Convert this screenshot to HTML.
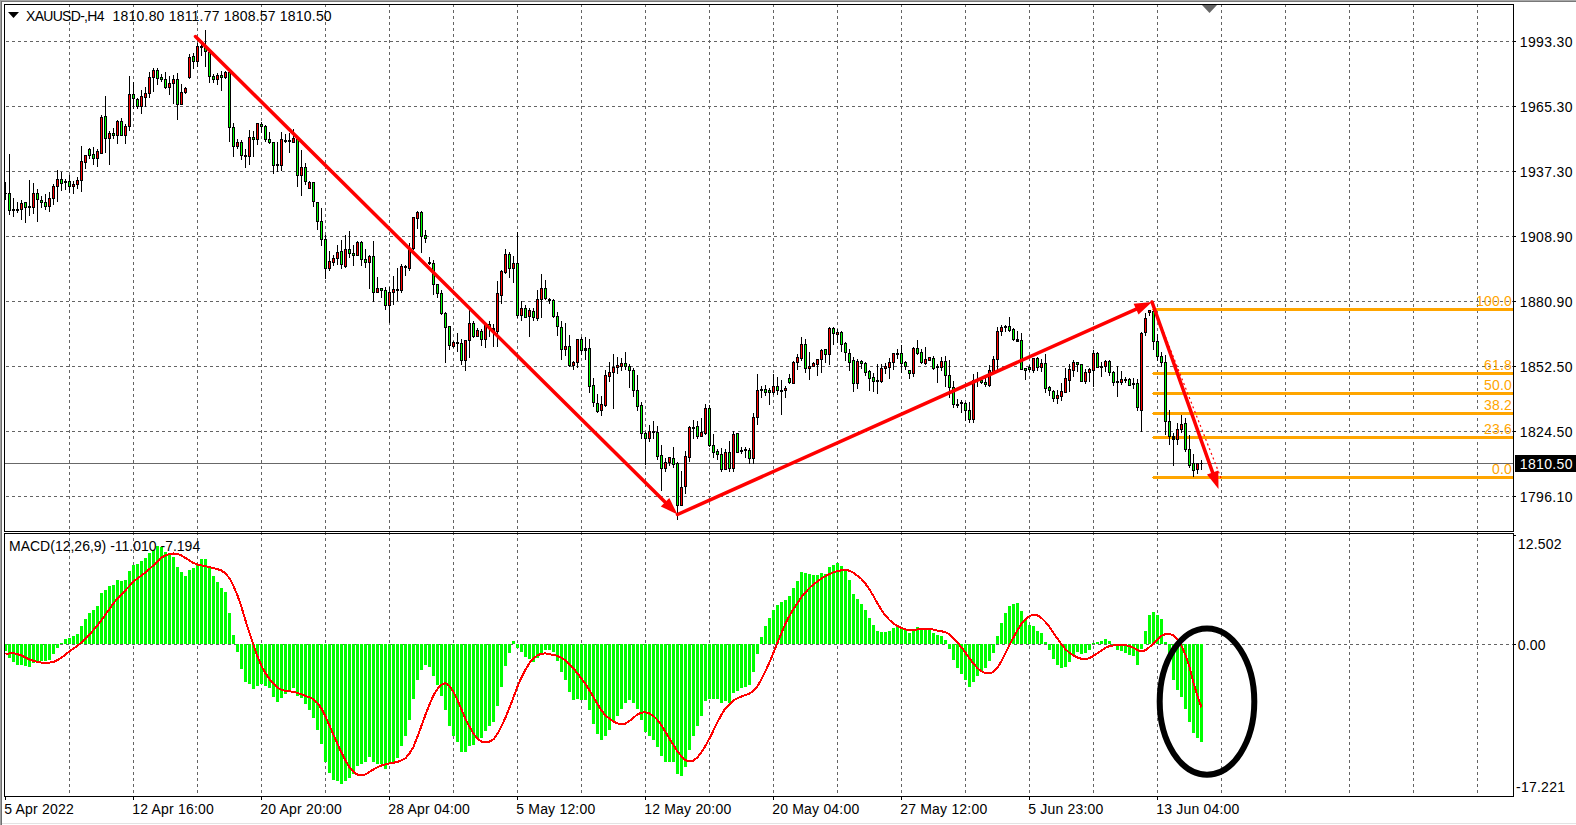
<!DOCTYPE html><html><head><meta charset="utf-8"><style>
html,body{margin:0;padding:0;background:#fff;width:1576px;height:825px;overflow:hidden}
svg{display:block}
text{font-family:"Liberation Sans",sans-serif;font-size:14px}
</style></head><body>
<svg width="1576" height="825" viewBox="0 0 1576 825" shape-rendering="crispEdges">
<rect x="0" y="0" width="1576" height="825" fill="#fff"/>
<rect x="0" y="0" width="1576" height="1" fill="#a8a8a8"/>
<rect x="0" y="1" width="1576" height="1" fill="#787878"/>
<rect x="0" y="0" width="1" height="825" fill="#a0a0a0"/>
<rect x="1" y="1" width="1" height="824" fill="#6e6e6e"/>
<rect x="2" y="823" width="1574" height="1" fill="#e3e3e3"/>
<path d="M6 41.5H1513 M6 106.5H1513 M6 171.5H1513 M6 236.5H1513 M6 301.5H1513 M6 366.5H1513 M6 431.5H1513 M6 496.5H1513 M69.5 4V531 M133.5 4V531 M197.5 4V531 M261.5 4V531 M325.5 4V531 M389.5 4V531 M453.5 4V531 M517.5 4V531 M581.5 4V531 M645.5 4V531 M709.5 4V531 M773.5 4V531 M837.5 4V531 M901.5 4V531 M965.5 4V531 M1029.5 4V531 M1093.5 4V531 M1157.5 4V531 M1221.5 4V531 M1285.5 4V531 M1349.5 4V531 M1413.5 4V531 M1477.5 4V531" stroke="#646464" stroke-width="1" stroke-dasharray="3 3" fill="none"/>
<path d="M6 644.5H1513 M69.5 532V796 M133.5 532V796 M197.5 532V796 M261.5 532V796 M325.5 532V796 M389.5 532V796 M453.5 532V796 M517.5 532V796 M581.5 532V796 M645.5 532V796 M709.5 532V796 M773.5 532V796 M837.5 532V796 M901.5 532V796 M965.5 532V796 M1029.5 532V796 M1093.5 532V796 M1157.5 532V796 M1221.5 532V796 M1285.5 532V796 M1349.5 532V796 M1413.5 532V796 M1477.5 532V796" stroke="#646464" stroke-width="1" stroke-dasharray="3 3" fill="none"/>
<rect x="5" y="463" width="1508" height="1" fill="#686868"/>
<rect x="1153" y="308" width="360" height="3" fill="#ffa500"/><rect x="1152" y="309" width="1" height="1" fill="#ffa500"/>
<rect x="1153" y="372" width="360" height="3" fill="#ffa500"/><rect x="1152" y="373" width="1" height="1" fill="#ffa500"/>
<rect x="1153" y="392" width="360" height="3" fill="#ffa500"/><rect x="1152" y="393" width="1" height="1" fill="#ffa500"/>
<rect x="1153" y="412" width="360" height="3" fill="#ffa500"/><rect x="1152" y="413" width="1" height="1" fill="#ffa500"/>
<rect x="1153" y="436" width="360" height="3" fill="#ffa500"/><rect x="1152" y="437" width="1" height="1" fill="#ffa500"/>
<rect x="1153" y="476" width="360" height="3" fill="#ffa500"/><rect x="1152" y="477" width="1" height="1" fill="#ffa500"/>
<text x="1512" y="306" text-anchor="end" fill="#ffa500" letter-spacing="0.2">100.0</text>
<text x="1512" y="370" text-anchor="end" fill="#ffa500" letter-spacing="0.2">61.8</text>
<text x="1512" y="390" text-anchor="end" fill="#ffa500" letter-spacing="0.2">50.0</text>
<text x="1512" y="410" text-anchor="end" fill="#ffa500" letter-spacing="0.2">38.2</text>
<text x="1512" y="434" text-anchor="end" fill="#ffa500" letter-spacing="0.2">23.6</text>
<text x="1512" y="474" text-anchor="end" fill="#ffa500" letter-spacing="0.2">0.0</text>
<path d="M5 182h1V200h-1z M9 154h1V215h-1z M13 198h1V217h-1z M17 202h1V213h-1z M21 200h1V220h-1z M25 202h1V223h-1z M29 180h1V216h-1z M33 183h1V214h-1z M37 189h1V222h-1z M41 196h1V208h-1z M45 194h1V210h-1z M49 192h1V212h-1z M53 184h1V205h-1z M57 170h1V202h-1z M61 172h1V191h-1z M65 179h1V190h-1z M69 175h1V193h-1z M73 181h1V194h-1z M77 177h1V189h-1z M81 146h1V192h-1z M85 155h1V169h-1z M89 148h1V159h-1z M93 147h1V165h-1z M97 149h1V167h-1z M101 115h1V154h-1z M105 96h1V153h-1z M109 131h1V165h-1z M113 128h1V139h-1z M117 120h1V144h-1z M121 118h1V136h-1z M125 124h1V144h-1z M129 76h1V131h-1z M133 82h1V109h-1z M137 98h1V109h-1z M141 90h1V114h-1z M145 87h1V107h-1z M149 72h1V98h-1z M153 68h1V92h-1z M157 68h1V85h-1z M161 74h1V82h-1z M165 72h1V89h-1z M169 76h1V95h-1z M173 75h1V104h-1z M177 73h1V120h-1z M181 84h1V105h-1z M185 87h1V94h-1z M189 54h1V79h-1z M193 53h1V69h-1z M197 43h1V67h-1z M201 44h1V56h-1z M205 30h1V67h-1z M209 52h1V83h-1z M213 74h1V83h-1z M217 73h1V85h-1z M221 71h1V91h-1z M225 71h1V79h-1z M229 72h1V142h-1z M233 123h1V157h-1z M237 139h1V149h-1z M241 140h1V160h-1z M245 149h1V168h-1z M249 130h1V165h-1z M253 131h1V157h-1z M257 123h1V145h-1z M261 122h1V133h-1z M265 125h1V142h-1z M269 132h1V144h-1z M273 142h1V174h-1z M277 142h1V172h-1z M281 132h1V171h-1z M285 134h1V143h-1z M289 133h1V153h-1z M293 129h1V143h-1z M297 138h1V187h-1z M301 150h1V196h-1z M305 163h1V185h-1z M309 181h1V189h-1z M313 182h1V207h-1z M317 202h1V230h-1z M321 208h1V246h-1z M325 235h1V279h-1z M329 251h1V271h-1z M333 255h1V266h-1z M337 245h1V265h-1z M341 240h1V269h-1z M345 235h1V268h-1z M349 231h1V258h-1z M353 245h1V266h-1z M357 241h1V256h-1z M361 241h1V266h-1z M365 249h1V268h-1z M369 255h1V289h-1z M373 241h1V302h-1z M377 277h1V293h-1z M381 288h1V298h-1z M385 287h1V310h-1z M389 287h1V323h-1z M393 276h1V305h-1z M397 268h1V301h-1z M401 264h1V293h-1z M405 265h1V276h-1z M409 243h1V271h-1z M413 217h1V250h-1z M417 211h1V229h-1z M421 211h1V253h-1z M425 230h1V243h-1z M429 257h1V265h-1z M433 260h1V295h-1z M437 284h1V298h-1z M441 290h1V315h-1z M445 312h1V363h-1z M449 326h1V350h-1z M453 341h1V348h-1z M457 333h1V352h-1z M461 339h1V365h-1z M465 340h1V371h-1z M469 310h1V358h-1z M473 321h1V338h-1z M477 328h1V337h-1z M481 329h1V346h-1z M485 323h1V348h-1z M489 321h1V337h-1z M493 324h1V347h-1z M497 281h1V347h-1z M501 270h1V304h-1z M505 249h1V274h-1z M509 252h1V278h-1z M513 256h1V283h-1z M517 232h1V318h-1z M521 301h1V321h-1z M525 305h1V318h-1z M529 308h1V337h-1z M533 308h1V321h-1z M537 290h1V321h-1z M541 274h1V318h-1z M545 280h1V300h-1z M549 298h1V304h-1z M553 299h1V318h-1z M557 312h1V336h-1z M561 321h1V360h-1z M565 323h1V356h-1z M569 335h1V367h-1z M573 361h1V370h-1z M577 339h1V368h-1z M581 337h1V355h-1z M585 337h1V360h-1z M589 339h1V393h-1z M593 378h1V407h-1z M597 394h1V413h-1z M601 396h1V416h-1z M605 370h1V407h-1z M609 362h1V382h-1z M613 354h1V409h-1z M617 357h1V374h-1z M621 358h1V371h-1z M625 352h1V370h-1z M629 364h1V388h-1z M633 368h1V397h-1z M637 375h1V411h-1z M641 402h1V439h-1z M645 432h1V465h-1z M649 425h1V442h-1z M653 421h1V439h-1z M657 426h1V460h-1z M661 445h1V491h-1z M665 458h1V472h-1z M669 457h1V466h-1z M673 447h1V468h-1z M677 462h1V520h-1z M681 471h1V506h-1z M685 451h1V494h-1z M689 426h1V462h-1z M693 420h1V439h-1z M697 421h1V439h-1z M701 418h1V437h-1z M705 404h1V435h-1z M709 405h1V447h-1z M713 434h1V458h-1z M717 449h1V460h-1z M721 448h1V472h-1z M725 449h1V470h-1z M729 441h1V472h-1z M733 431h1V472h-1z M737 433h1V453h-1z M741 447h1V454h-1z M745 447h1V458h-1z M749 448h1V464h-1z M753 413h1V464h-1z M757 374h1V425h-1z M761 386h1V398h-1z M765 385h1V396h-1z M769 388h1V405h-1z M773 374h1V395h-1z M777 377h1V395h-1z M781 380h1V415h-1z M785 386h1V398h-1z M789 374h1V384h-1z M793 361h1V384h-1z M797 354h1V370h-1z M801 337h1V361h-1z M805 339h1V373h-1z M809 352h1V380h-1z M813 362h1V367h-1z M817 359h1V376h-1z M821 349h1V373h-1z M825 349h1V363h-1z M829 327h1V365h-1z M833 327h1V345h-1z M837 329h1V343h-1z M841 331h1V352h-1z M845 342h1V361h-1z M849 349h1V371h-1z M853 357h1V392h-1z M857 359h1V389h-1z M861 360h1V369h-1z M865 362h1V376h-1z M869 370h1V391h-1z M873 373h1V392h-1z M877 364h1V394h-1z M881 364h1V383h-1z M885 363h1V374h-1z M889 358h1V379h-1z M893 353h1V370h-1z M897 349h1V359h-1z M901 345h1V373h-1z M905 361h1V370h-1z M909 370h1V379h-1z M913 347h1V377h-1z M917 340h1V355h-1z M921 349h1V364h-1z M925 347h1V365h-1z M929 357h1V361h-1z M933 356h1V370h-1z M937 364h1V383h-1z M941 357h1V371h-1z M945 356h1V387h-1z M949 360h1V398h-1z M953 381h1V408h-1z M957 399h1V408h-1z M961 400h1V413h-1z M965 402h1V421h-1z M969 402h1V423h-1z M973 374h1V423h-1z M977 372h1V387h-1z M981 378h1V384h-1z M985 375h1V387h-1z M989 365h1V387h-1z M993 356h1V372h-1z M997 327h1V372h-1z M1001 325h1V336h-1z M1005 325h1V332h-1z M1009 317h1V332h-1z M1013 328h1V341h-1z M1017 331h1V342h-1z M1021 333h1V370h-1z M1025 368h1V380h-1z M1029 365h1V372h-1z M1033 358h1V373h-1z M1037 357h1V371h-1z M1041 359h1V372h-1z M1045 354h1V393h-1z M1049 386h1V396h-1z M1053 390h1V402h-1z M1057 390h1V404h-1z M1061 383h1V401h-1z M1065 368h1V393h-1z M1069 364h1V392h-1z M1073 360h1V377h-1z M1077 362h1V372h-1z M1081 364h1V382h-1z M1085 369h1V384h-1z M1089 368h1V382h-1z M1093 350h1V387h-1z M1097 352h1V368h-1z M1101 362h1V377h-1z M1105 360h1V372h-1z M1109 360h1V376h-1z M1113 371h1V386h-1z M1117 366h1V397h-1z M1121 371h1V385h-1z M1125 377h1V383h-1z M1129 378h1V386h-1z M1133 378h1V389h-1z M1137 379h1V411h-1z M1141 332h1V432h-1z M1145 313h1V336h-1z M1149 310h1V316h-1z M1153 308h1V350h-1z M1157 334h1V361h-1z M1161 352h1V367h-1z M1165 355h1V435h-1z M1169 410h1V445h-1z M1173 433h1V466h-1z M1177 423h1V445h-1z M1181 415h1V433h-1z M1185 418h1V452h-1z M1189 435h1V468h-1z M1193 454h1V477h-1z M1197 463h1V474h-1z M1201 460h1V470h-1z" fill="#000"/>
<path d="M4 193h3V194h-3z M8 193h3V211h-3z M12 209h3V211h-3z M16 209h3V211h-3z M20 203h3V210h-3z M24 202h3V208h-3z M28 206h3V208h-3z M32 193h3V208h-3z M36 193h3V200h-3z M40 200h3V203h-3z M44 202h3V207h-3z M48 198h3V207h-3z M52 186h3V199h-3z M56 179h3V187h-3z M60 179h3V184h-3z M64 181h3V183h-3z M68 181h3V187h-3z M72 184h3V187h-3z M76 180h3V185h-3z M80 161h3V181h-3z M84 155h3V163h-3z M88 149h3V156h-3z M92 154h3V159h-3z M96 151h3V159h-3z M100 117h3V154h-3z M104 116h3V139h-3z M108 133h3V139h-3z M112 133h3V136h-3z M116 121h3V136h-3z M120 121h3V136h-3z M124 126h3V136h-3z M128 94h3V127h-3z M132 94h3V99h-3z M136 99h3V107h-3z M140 96h3V107h-3z M144 93h3V98h-3z M148 77h3V94h-3z M152 70h3V78h-3z M156 70h3V79h-3z M160 77h3V80h-3z M164 79h3V88h-3z M168 83h3V88h-3z M172 79h3V84h-3z M176 79h3V105h-3z M180 92h3V105h-3z M184 88h3V93h-3z M188 57h3V78h-3z M192 56h3V62h-3z M196 46h3V62h-3z M200 46h3V48h-3z M204 47h3V52h-3z M208 52h3V77h-3z M212 76h3V80h-3z M216 75h3V80h-3z M220 75h3V78h-3z M224 72h3V78h-3z M228 72h3V128h-3z M232 127h3V147h-3z M236 142h3V147h-3z M240 142h3V156h-3z M244 155h3V157h-3z M248 137h3V157h-3z M252 137h3V140h-3z M256 123h3V140h-3z M260 124h3V127h-3z M264 126h3V140h-3z M268 139h3V143h-3z M272 142h3V166h-3z M276 164h3V166h-3z M280 139h3V166h-3z M284 140h3V142h-3z M288 140h3V142h-3z M292 138h3V143h-3z M296 139h3V176h-3z M300 167h3V176h-3z M304 167h3V182h-3z M308 182h3V189h-3z M312 182h3V202h-3z M316 202h3V222h-3z M320 221h3V240h-3z M324 239h3V269h-3z M328 261h3V269h-3z M332 258h3V263h-3z M336 252h3V259h-3z M340 251h3V265h-3z M344 249h3V267h-3z M348 249h3V254h-3z M352 253h3V256h-3z M356 242h3V256h-3z M360 242h3V260h-3z M364 259h3V263h-3z M368 256h3V263h-3z M372 256h3V293h-3z M376 288h3V293h-3z M380 288h3V291h-3z M384 290h3V306h-3z M388 292h3V306h-3z M392 289h3V293h-3z M396 289h3V291h-3z M400 266h3V291h-3z M404 266h3V268h-3z M408 249h3V269h-3z M412 217h3V249h-3z M416 212h3V219h-3z M420 212h3V237h-3z M424 235h3V239h-3z M428 262h3V264h-3z M432 263h3V285h-3z M436 284h3V294h-3z M440 293h3V314h-3z M444 313h3V328h-3z M448 326h3V346h-3z M452 342h3V347h-3z M456 342h3V344h-3z M460 343h3V361h-3z M464 340h3V361h-3z M468 323h3V341h-3z M472 323h3V337h-3z M476 330h3V337h-3z M480 331h3V340h-3z M484 325h3V340h-3z M488 324h3V328h-3z M492 328h3V331h-3z M496 293h3V332h-3z M500 271h3V296h-3z M504 254h3V273h-3z M508 254h3V269h-3z M512 263h3V269h-3z M516 263h3V316h-3z M520 308h3V316h-3z M524 308h3V318h-3z M528 310h3V317h-3z M532 311h3V318h-3z M536 299h3V319h-3z M540 288h3V300h-3z M544 288h3V299h-3z M548 299h3V301h-3z M552 300h3V317h-3z M556 316h3V327h-3z M560 327h3V350h-3z M564 346h3V350h-3z M568 346h3V366h-3z M572 362h3V366h-3z M576 339h3V363h-3z M580 339h3V351h-3z M584 348h3V351h-3z M588 348h3V387h-3z M592 385h3V403h-3z M596 403h3V412h-3z M600 404h3V411h-3z M604 375h3V406h-3z M608 372h3V377h-3z M612 367h3V373h-3z M616 365h3V368h-3z M620 363h3V367h-3z M624 363h3V367h-3z M628 366h3V371h-3z M632 370h3V391h-3z M636 390h3V407h-3z M640 405h3V434h-3z M644 433h3V439h-3z M648 431h3V439h-3z M652 431h3V433h-3z M656 432h3V457h-3z M660 455h3V469h-3z M664 462h3V469h-3z M668 457h3V463h-3z M672 458h3V465h-3z M676 463h3V506h-3z M680 487h3V506h-3z M684 456h3V487h-3z M688 427h3V458h-3z M692 427h3V429h-3z M696 426h3V437h-3z M700 432h3V437h-3z M704 408h3V434h-3z M708 408h3V446h-3z M712 445h3V453h-3z M716 451h3V455h-3z M720 454h3V470h-3z M724 452h3V470h-3z M728 452h3V469h-3z M732 434h3V469h-3z M736 433h3V453h-3z M740 450h3V452h-3z M744 449h3V451h-3z M748 450h3V459h-3z M752 417h3V459h-3z M756 390h3V418h-3z M760 389h3V391h-3z M764 389h3V393h-3z M768 390h3V393h-3z M772 386h3V393h-3z M776 386h3V391h-3z M780 390h3V392h-3z M784 388h3V391h-3z M788 378h3V383h-3z M792 362h3V384h-3z M796 357h3V363h-3z M800 344h3V359h-3z M804 344h3V369h-3z M808 366h3V369h-3z M812 363h3V367h-3z M816 359h3V365h-3z M820 350h3V360h-3z M824 349h3V355h-3z M828 328h3V355h-3z M832 328h3V334h-3z M836 332h3V335h-3z M840 332h3V345h-3z M844 343h3V353h-3z M848 353h3V363h-3z M852 360h3V384h-3z M856 361h3V384h-3z M860 361h3V364h-3z M864 363h3V373h-3z M868 371h3V379h-3z M872 377h3V382h-3z M876 380h3V382h-3z M880 368h3V382h-3z M884 366h3V369h-3z M888 362h3V368h-3z M892 353h3V363h-3z M896 353h3V355h-3z M900 353h3V364h-3z M904 362h3V367h-3z M908 370h3V374h-3z M912 348h3V374h-3z M916 348h3V354h-3z M920 352h3V363h-3z M924 359h3V364h-3z M928 357h3V361h-3z M932 358h3V369h-3z M936 366h3V368h-3z M940 361h3V368h-3z M944 361h3V376h-3z M948 375h3V388h-3z M952 387h3V405h-3z M956 404h3V406h-3z M960 402h3V404h-3z M964 403h3V411h-3z M968 410h3V420h-3z M972 380h3V420h-3z M976 379h3V381h-3z M980 380h3V383h-3z M984 382h3V385h-3z M988 370h3V386h-3z M992 359h3V372h-3z M996 331h3V360h-3z M1000 327h3V332h-3z M1004 326h3V328h-3z M1008 326h3V331h-3z M1012 329h3V340h-3z M1016 339h3V342h-3z M1020 340h3V370h-3z M1024 368h3V371h-3z M1028 367h3V370h-3z M1032 358h3V371h-3z M1036 358h3V368h-3z M1040 363h3V368h-3z M1044 363h3V389h-3z M1048 387h3V391h-3z M1052 391h3V399h-3z M1056 395h3V399h-3z M1060 391h3V397h-3z M1064 378h3V393h-3z M1068 369h3V381h-3z M1072 362h3V371h-3z M1076 362h3V365h-3z M1080 364h3V382h-3z M1084 372h3V382h-3z M1088 369h3V373h-3z M1092 353h3V371h-3z M1096 353h3V368h-3z M1100 366h3V368h-3z M1104 361h3V367h-3z M1108 361h3V373h-3z M1112 372h3V383h-3z M1116 381h3V383h-3z M1120 379h3V383h-3z M1124 379h3V381h-3z M1128 379h3V386h-3z M1132 383h3V385h-3z M1136 383h3V408h-3z M1140 333h3V411h-3z M1144 318h3V333h-3z M1148 310h3V313h-3z M1152 311h3V342h-3z M1156 341h3V357h-3z M1160 356h3V363h-3z M1164 362h3V422h-3z M1168 421h3V437h-3z M1172 436h3V440h-3z M1176 429h3V440h-3z M1180 424h3V430h-3z M1184 423h3V450h-3z M1188 449h3V466h-3z M1192 463h3V471h-3z M1196 463h3V470h-3z M1200 463h3V464h-3z" fill="#000"/>
<path d="M21 204h1v5h-1z M33 194h1v13h-1z M49 199h1v7h-1z M53 187h1v11h-1z M57 180h1v6h-1z M73 185h1v1h-1z M77 181h1v3h-1z M81 162h1v18h-1z M85 156h1v6h-1z M97 152h1v6h-1z M101 118h1v35h-1z M109 134h1v4h-1z M117 122h1v13h-1z M125 127h1v8h-1z M129 95h1v31h-1z M141 97h1v9h-1z M145 94h1v3h-1z M149 78h1v15h-1z M153 71h1v6h-1z M169 84h1v3h-1z M173 80h1v3h-1z M181 93h1v11h-1z M185 89h1v3h-1z M189 58h1v19h-1z M197 47h1v14h-1z M217 76h1v3h-1z M225 73h1v4h-1z M237 143h1v3h-1z M249 138h1v18h-1z M257 124h1v15h-1z M281 140h1v25h-1z M293 139h1v3h-1z M301 168h1v7h-1z M309 183h1v5h-1z M329 262h1v6h-1z M333 259h1v3h-1z M337 253h1v5h-1z M345 250h1v16h-1z M357 243h1v12h-1z M369 257h1v5h-1z M377 289h1v3h-1z M389 293h1v12h-1z M393 290h1v2h-1z M401 267h1v23h-1z M409 250h1v18h-1z M413 218h1v30h-1z M417 213h1v5h-1z M453 343h1v3h-1z M465 341h1v19h-1z M469 324h1v16h-1z M477 331h1v5h-1z M485 326h1v13h-1z M497 294h1v37h-1z M501 272h1v23h-1z M505 255h1v17h-1z M513 264h1v4h-1z M521 309h1v6h-1z M529 311h1v5h-1z M537 300h1v18h-1z M541 289h1v10h-1z M565 347h1v2h-1z M573 363h1v2h-1z M577 340h1v22h-1z M601 405h1v5h-1z M605 376h1v29h-1z M609 373h1v3h-1z M613 368h1v4h-1z M617 366h1v1h-1z M621 364h1v2h-1z M649 432h1v6h-1z M665 463h1v5h-1z M669 458h1v4h-1z M681 488h1v17h-1z M685 457h1v29h-1z M689 428h1v29h-1z M701 433h1v3h-1z M705 409h1v24h-1z M725 453h1v16h-1z M733 435h1v33h-1z M753 418h1v40h-1z M757 391h1v26h-1z M773 387h1v5h-1z M785 389h1v1h-1z M793 363h1v20h-1z M797 358h1v4h-1z M801 345h1v13h-1z M809 367h1v1h-1z M813 364h1v2h-1z M817 360h1v4h-1z M821 351h1v8h-1z M829 329h1v25h-1z M837 333h1v1h-1z M857 362h1v21h-1z M881 369h1v12h-1z M885 367h1v1h-1z M889 363h1v4h-1z M893 354h1v8h-1z M913 349h1v24h-1z M925 360h1v3h-1z M929 358h1v2h-1z M941 362h1v5h-1z M973 381h1v38h-1z M989 371h1v14h-1z M993 360h1v11h-1z M997 332h1v27h-1z M1001 328h1v3h-1z M1033 359h1v11h-1z M1041 364h1v3h-1z M1057 396h1v2h-1z M1061 392h1v4h-1z M1065 379h1v13h-1z M1069 370h1v10h-1z M1073 363h1v7h-1z M1085 373h1v8h-1z M1089 370h1v2h-1z M1093 354h1v16h-1z M1105 362h1v4h-1z M1121 380h1v2h-1z M1141 334h1v76h-1z M1145 319h1v13h-1z M1149 311h1v1h-1z M1177 430h1v9h-1z M1181 425h1v4h-1z M1197 464h1v5h-1z" fill="#ff0000"/>
<path d="M9 194h1v16h-1z M25 203h1v4h-1z M37 194h1v5h-1z M41 201h1v1h-1z M45 203h1v3h-1z M61 180h1v3h-1z M69 182h1v4h-1z M89 150h1v5h-1z M93 155h1v3h-1z M105 117h1v21h-1z M113 134h1v1h-1z M121 122h1v13h-1z M133 95h1v3h-1z M137 100h1v6h-1z M157 71h1v7h-1z M161 78h1v1h-1z M165 80h1v7h-1z M177 80h1v24h-1z M193 57h1v4h-1z M205 48h1v3h-1z M209 53h1v23h-1z M213 77h1v2h-1z M221 76h1v1h-1z M229 73h1v54h-1z M233 128h1v18h-1z M241 143h1v12h-1z M253 138h1v1h-1z M261 125h1v1h-1z M265 127h1v12h-1z M269 140h1v2h-1z M273 143h1v22h-1z M297 140h1v35h-1z M305 168h1v13h-1z M313 183h1v18h-1z M317 203h1v18h-1z M321 222h1v17h-1z M325 240h1v28h-1z M341 252h1v12h-1z M349 250h1v3h-1z M353 254h1v1h-1z M361 243h1v16h-1z M365 260h1v2h-1z M373 257h1v35h-1z M381 289h1v1h-1z M385 291h1v14h-1z M421 213h1v23h-1z M425 236h1v2h-1z M433 264h1v20h-1z M437 285h1v8h-1z M441 294h1v19h-1z M445 314h1v13h-1z M449 327h1v18h-1z M461 344h1v16h-1z M473 324h1v12h-1z M481 332h1v7h-1z M489 325h1v2h-1z M509 255h1v13h-1z M517 264h1v51h-1z M525 309h1v8h-1z M533 312h1v5h-1z M545 289h1v9h-1z M553 301h1v15h-1z M557 317h1v9h-1z M561 328h1v21h-1z M569 347h1v18h-1z M581 340h1v10h-1z M589 349h1v37h-1z M593 386h1v16h-1z M597 404h1v7h-1z M625 364h1v2h-1z M629 367h1v3h-1z M633 371h1v19h-1z M637 391h1v15h-1z M641 406h1v27h-1z M645 434h1v4h-1z M657 433h1v23h-1z M661 456h1v12h-1z M673 459h1v5h-1z M677 464h1v41h-1z M697 427h1v9h-1z M709 409h1v36h-1z M713 446h1v6h-1z M717 452h1v2h-1z M721 455h1v14h-1z M729 453h1v15h-1z M737 434h1v18h-1z M749 451h1v7h-1z M765 390h1v2h-1z M769 391h1v1h-1z M777 387h1v3h-1z M789 379h1v3h-1z M805 345h1v23h-1z M825 350h1v4h-1z M833 329h1v4h-1z M841 333h1v11h-1z M845 344h1v8h-1z M849 354h1v8h-1z M853 361h1v22h-1z M861 362h1v1h-1z M865 364h1v8h-1z M869 372h1v6h-1z M873 378h1v3h-1z M901 354h1v9h-1z M905 363h1v3h-1z M909 371h1v2h-1z M917 349h1v4h-1z M921 353h1v9h-1z M933 359h1v9h-1z M945 362h1v13h-1z M949 376h1v11h-1z M953 388h1v16h-1z M965 404h1v6h-1z M969 411h1v8h-1z M981 381h1v1h-1z M985 383h1v1h-1z M1009 327h1v3h-1z M1013 330h1v9h-1z M1021 341h1v28h-1z M1025 369h1v1h-1z M1029 368h1v1h-1z M1037 359h1v8h-1z M1045 364h1v24h-1z M1049 388h1v2h-1z M1053 392h1v6h-1z M1077 363h1v1h-1z M1081 365h1v16h-1z M1097 354h1v13h-1z M1109 362h1v10h-1z M1113 373h1v9h-1z M1129 380h1v5h-1z M1137 384h1v23h-1z M1153 312h1v29h-1z M1157 342h1v14h-1z M1161 357h1v5h-1z M1165 363h1v58h-1z M1169 422h1v14h-1z M1185 424h1v25h-1z M1189 450h1v15h-1z M1193 464h1v6h-1z" fill="#00ff00"/>
<path d="M4 644h3V651h-3z M8 644h3V658h-3z M12 644h3V662h-3z M16 644h3V665h-3z M20 644h3V665h-3z M24 644h3V666h-3z M28 644h3V667h-3z M32 644h3V663h-3z M36 644h3V661h-3z M40 644h3V661h-3z M44 644h3V661h-3z M48 644h3V660h-3z M52 644h3V654h-3z M56 644h3V648h-3z M60 643h3V644h-3z M64 639h3V644h-3z M68 638h3V644h-3z M72 636h3V644h-3z M76 634h3V644h-3z M80 626h3V644h-3z M84 619h3V644h-3z M88 613h3V644h-3z M92 610h3V644h-3z M96 606h3V644h-3z M100 593h3V644h-3z M104 590h3V644h-3z M108 586h3V644h-3z M112 585h3V644h-3z M116 580h3V644h-3z M120 581h3V644h-3z M124 580h3V644h-3z M128 571h3V644h-3z M132 565h3V644h-3z M136 564h3V644h-3z M140 561h3V644h-3z M144 558h3V644h-3z M148 553h3V644h-3z M152 550h3V644h-3z M156 546h3V644h-3z M160 547h3V644h-3z M164 552h3V644h-3z M168 554h3V644h-3z M172 557h3V644h-3z M176 567h3V644h-3z M180 572h3V644h-3z M184 576h3V644h-3z M188 570h3V644h-3z M192 568h3V644h-3z M196 565h3V644h-3z M200 559h3V644h-3z M204 559h3V644h-3z M208 568h3V644h-3z M212 576h3V644h-3z M216 582h3V644h-3z M220 588h3V644h-3z M224 592h3V644h-3z M228 613h3V644h-3z M232 635h3V644h-3z M236 644h3V652h-3z M240 644h3V669h-3z M244 644h3V682h-3z M248 644h3V684h-3z M252 644h3V689h-3z M256 644h3V686h-3z M260 644h3V684h-3z M264 644h3V686h-3z M268 644h3V688h-3z M272 644h3V697h-3z M276 644h3V702h-3z M280 644h3V698h-3z M284 644h3V694h-3z M288 644h3V691h-3z M292 644h3V688h-3z M296 644h3V696h-3z M300 644h3V698h-3z M304 644h3V704h-3z M308 644h3V710h-3z M312 644h3V718h-3z M316 644h3V730h-3z M320 644h3V744h-3z M324 644h3V762h-3z M328 644h3V773h-3z M332 644h3V780h-3z M336 644h3V781h-3z M340 644h3V784h-3z M344 644h3V781h-3z M348 644h3V778h-3z M352 644h3V774h-3z M356 644h3V766h-3z M360 644h3V764h-3z M364 644h3V762h-3z M368 644h3V757h-3z M372 644h3V762h-3z M376 644h3V764h-3z M380 644h3V764h-3z M384 644h3V769h-3z M388 644h3V764h-3z M392 644h3V762h-3z M396 644h3V758h-3z M400 644h3V746h-3z M404 644h3V736h-3z M408 644h3V720h-3z M412 644h3V699h-3z M416 644h3V680h-3z M420 644h3V670h-3z M424 644h3V665h-3z M428 644h3V667h-3z M432 644h3V676h-3z M436 644h3V685h-3z M440 644h3V696h-3z M444 644h3V710h-3z M448 644h3V726h-3z M452 644h3V736h-3z M456 644h3V742h-3z M460 644h3V752h-3z M464 644h3V752h-3z M468 644h3V746h-3z M472 644h3V745h-3z M476 644h3V738h-3z M480 644h3V738h-3z M484 644h3V731h-3z M488 644h3V726h-3z M492 644h3V722h-3z M496 644h3V706h-3z M500 644h3V687h-3z M504 644h3V666h-3z M508 644h3V653h-3z M512 641h3V644h-3z M516 644h3V648h-3z M520 644h3V652h-3z M524 644h3V657h-3z M528 644h3V659h-3z M532 644h3V662h-3z M536 644h3V658h-3z M540 644h3V654h-3z M544 644h3V650h-3z M548 644h3V650h-3z M552 644h3V652h-3z M556 644h3V661h-3z M560 644h3V672h-3z M564 644h3V680h-3z M568 644h3V692h-3z M572 644h3V700h-3z M576 644h3V699h-3z M580 644h3V700h-3z M584 644h3V700h-3z M588 644h3V710h-3z M592 644h3V724h-3z M596 644h3V734h-3z M600 644h3V740h-3z M604 644h3V736h-3z M608 644h3V730h-3z M612 644h3V722h-3z M616 644h3V716h-3z M620 644h3V709h-3z M624 644h3V703h-3z M628 644h3V700h-3z M632 644h3V703h-3z M636 644h3V709h-3z M640 644h3V720h-3z M644 644h3V732h-3z M648 644h3V736h-3z M652 644h3V740h-3z M656 644h3V747h-3z M660 644h3V756h-3z M664 644h3V762h-3z M668 644h3V762h-3z M672 644h3V762h-3z M676 644h3V774h-3z M680 644h3V776h-3z M684 644h3V767h-3z M688 644h3V750h-3z M692 644h3V736h-3z M696 644h3V726h-3z M700 644h3V716h-3z M704 644h3V701h-3z M708 644h3V699h-3z M712 644h3V699h-3z M716 644h3V699h-3z M720 644h3V703h-3z M724 644h3V701h-3z M728 644h3V703h-3z M732 644h3V693h-3z M736 644h3V691h-3z M740 644h3V688h-3z M744 644h3V687h-3z M748 644h3V685h-3z M752 644h3V672h-3z M756 644h3V654h-3z M760 637h3V644h-3z M764 626h3V644h-3z M768 618h3V644h-3z M772 610h3V644h-3z M776 605h3V644h-3z M780 602h3V644h-3z M784 600h3V644h-3z M788 596h3V644h-3z M792 588h3V644h-3z M796 581h3V644h-3z M800 572h3V644h-3z M804 573h3V644h-3z M808 574h3V644h-3z M812 575h3V644h-3z M816 575h3V644h-3z M820 573h3V644h-3z M824 574h3V644h-3z M828 567h3V644h-3z M832 565h3V644h-3z M836 563h3V644h-3z M840 566h3V644h-3z M844 571h3V644h-3z M848 580h3V644h-3z M852 594h3V644h-3z M856 599h3V644h-3z M860 604h3V644h-3z M864 610h3V644h-3z M868 618h3V644h-3z M872 625h3V644h-3z M876 631h3V644h-3z M880 632h3V644h-3z M884 632h3V644h-3z M888 631h3V644h-3z M892 628h3V644h-3z M896 627h3V644h-3z M900 628h3V644h-3z M904 630h3V644h-3z M908 633h3V644h-3z M912 631h3V644h-3z M916 627h3V644h-3z M920 630h3V644h-3z M924 630h3V644h-3z M928 630h3V644h-3z M932 633h3V644h-3z M936 635h3V644h-3z M940 636h3V644h-3z M944 640h3V644h-3z M948 644h3V649h-3z M952 644h3V660h-3z M956 644h3V668h-3z M960 644h3V674h-3z M964 644h3V680h-3z M968 644h3V687h-3z M972 644h3V682h-3z M976 644h3V676h-3z M980 644h3V672h-3z M984 644h3V668h-3z M988 644h3V661h-3z M992 644h3V653h-3z M996 636h3V644h-3z M1000 623h3V644h-3z M1004 613h3V644h-3z M1008 606h3V644h-3z M1012 604h3V644h-3z M1016 603h3V644h-3z M1020 611h3V644h-3z M1024 620h3V644h-3z M1028 625h3V644h-3z M1032 626h3V644h-3z M1036 631h3V644h-3z M1040 633h3V644h-3z M1044 642h3V644h-3z M1048 644h3V650h-3z M1052 644h3V659h-3z M1056 644h3V665h-3z M1060 644h3V668h-3z M1064 644h3V667h-3z M1068 644h3V662h-3z M1072 644h3V655h-3z M1076 644h3V652h-3z M1080 644h3V654h-3z M1084 644h3V653h-3z M1088 644h3V650h-3z M1092 643h3V644h-3z M1096 642h3V644h-3z M1100 641h3V644h-3z M1104 639h3V644h-3z M1108 641h3V644h-3z M1112 644h3V645h-3z M1116 644h3V650h-3z M1120 644h3V651h-3z M1124 644h3V653h-3z M1128 644h3V655h-3z M1132 644h3V656h-3z M1136 644h3V665h-3z M1140 644h3V649h-3z M1144 631h3V644h-3z M1148 615h3V644h-3z M1152 612h3V644h-3z M1156 615h3V644h-3z M1160 619h3V644h-3z M1164 642h3V644h-3z M1168 644h3V654h-3z M1172 644h3V680h-3z M1176 644h3V690h-3z M1180 644h3V697h-3z M1184 644h3V709h-3z M1188 644h3V722h-3z M1192 644h3V733h-3z M1196 644h3V738h-3z M1200 644h3V742h-3z" fill="#00ff00"/>
<polyline points="5.5,654.0 9.5,653.4 13.5,653.2 17.5,654.2 21.5,655.5 25.5,657.5 29.5,659.5 33.5,660.9 37.5,662.0 41.5,662.6 45.5,662.7 49.5,662.6 53.5,662.0 57.5,660.1 61.5,657.6 65.5,654.5 69.5,651.3 73.5,648.5 77.5,645.7 81.5,642.3 85.5,638.4 89.5,634.4 93.5,629.9 97.5,625.4 101.5,620.1 105.5,614.6 109.5,609.0 113.5,603.4 117.5,598.4 121.5,594.2 125.5,590.2 129.5,585.9 133.5,581.4 137.5,578.4 141.5,575.4 145.5,572.4 149.5,568.9 153.5,565.2 157.5,561.3 161.5,557.4 165.5,555.5 169.5,554.1 173.5,553.5 177.5,554.1 181.5,555.4 185.5,558.0 189.5,560.5 193.5,563.0 197.5,564.5 201.5,565.4 205.5,566.1 209.5,567.2 213.5,568.1 217.5,569.1 221.5,570.5 225.5,573.5 229.5,578.3 233.5,586.0 237.5,595.5 241.5,607.1 245.5,620.5 249.5,633.1 253.5,645.2 257.5,656.5 261.5,665.9 265.5,673.4 269.5,679.0 273.5,683.8 277.5,687.6 281.5,689.9 285.5,690.9 289.5,691.4 293.5,691.8 297.5,692.9 301.5,694.3 305.5,695.9 309.5,697.3 313.5,699.2 317.5,703.0 321.5,708.6 325.5,716.6 329.5,725.6 333.5,734.8 337.5,743.8 341.5,752.7 345.5,760.6 349.5,767.3 353.5,772.0 357.5,774.7 361.5,775.0 365.5,774.4 369.5,771.8 373.5,769.4 377.5,767.3 381.5,765.5 385.5,764.3 389.5,763.4 393.5,762.7 397.5,762.0 401.5,760.3 405.5,758.2 409.5,753.4 413.5,746.8 417.5,736.6 421.5,725.7 425.5,714.6 429.5,704.4 433.5,695.4 437.5,689.0 441.5,684.6 445.5,683.2 449.5,685.9 453.5,691.9 457.5,699.9 461.5,709.4 465.5,719.1 469.5,726.7 473.5,733.6 477.5,738.6 481.5,741.6 485.5,742.1 489.5,741.5 493.5,739.3 497.5,733.8 501.5,726.3 505.5,717.4 509.5,707.7 513.5,697.1 517.5,686.5 521.5,677.4 525.5,669.7 529.5,663.0 533.5,658.5 537.5,655.2 541.5,653.8 545.5,653.4 549.5,654.3 553.5,654.9 557.5,656.0 561.5,657.7 565.5,660.6 569.5,664.1 573.5,668.6 577.5,673.4 581.5,678.7 585.5,684.1 589.5,690.3 593.5,697.2 597.5,704.2 601.5,710.4 605.5,715.5 609.5,718.7 613.5,721.4 617.5,723.4 621.5,724.1 625.5,723.6 629.5,720.9 633.5,717.8 637.5,714.3 641.5,712.6 645.5,712.3 649.5,713.5 653.5,716.1 657.5,720.0 661.5,725.5 665.5,732.0 669.5,738.8 673.5,745.1 677.5,751.4 681.5,756.3 685.5,760.2 689.5,761.5 693.5,760.5 697.5,757.3 701.5,752.1 705.5,745.7 709.5,738.3 713.5,730.3 717.5,722.1 721.5,714.6 725.5,708.2 729.5,704.3 733.5,700.4 737.5,698.1 741.5,696.5 745.5,695.1 749.5,693.7 753.5,690.7 757.5,686.1 761.5,679.2 765.5,671.1 769.5,662.3 773.5,652.6 777.5,642.7 781.5,633.0 785.5,623.4 789.5,615.8 793.5,608.9 797.5,602.9 801.5,597.1 805.5,592.2 809.5,588.0 813.5,584.3 817.5,581.3 821.5,578.4 825.5,576.2 829.5,574.0 833.5,572.4 837.5,571.1 841.5,570.3 845.5,569.9 849.5,570.7 853.5,572.8 857.5,575.8 861.5,579.0 865.5,583.8 869.5,589.5 873.5,596.2 877.5,603.3 881.5,610.0 885.5,615.7 889.5,620.0 893.5,623.6 897.5,626.1 901.5,628.1 905.5,629.4 909.5,629.9 913.5,629.9 917.5,629.4 921.5,629.0 925.5,628.9 929.5,629.0 933.5,629.6 937.5,630.6 941.5,631.3 945.5,632.1 949.5,634.4 953.5,638.1 957.5,642.6 961.5,647.4 965.5,652.8 969.5,658.4 973.5,663.6 977.5,668.2 981.5,671.4 985.5,673.1 989.5,673.3 993.5,672.0 997.5,667.6 1001.5,661.1 1005.5,652.9 1009.5,645.0 1013.5,637.3 1017.5,630.0 1021.5,623.8 1025.5,619.4 1029.5,616.1 1033.5,614.8 1037.5,615.3 1041.5,618.0 1045.5,622.0 1049.5,627.0 1053.5,632.9 1057.5,638.7 1061.5,644.2 1065.5,649.2 1069.5,652.9 1073.5,655.5 1077.5,657.5 1081.5,658.8 1085.5,658.9 1089.5,658.3 1093.5,655.7 1097.5,653.1 1101.5,650.5 1105.5,647.7 1109.5,646.2 1113.5,645.4 1117.5,645.1 1121.5,645.0 1125.5,645.1 1129.5,646.2 1133.5,647.6 1137.5,650.3 1141.5,651.1 1145.5,650.3 1149.5,647.0 1153.5,643.4 1157.5,639.5 1161.5,635.7 1165.5,634.1 1169.5,633.7 1173.5,635.6 1177.5,639.8 1181.5,645.9 1185.5,655.2 1189.5,666.7 1193.5,682.8 1197.5,696.0 1201.5,707.5" fill="none" stroke="#ff0000" stroke-width="2" shape-rendering="crispEdges" stroke-linejoin="round"/>
<rect x="2" y="2" width="2" height="821" fill="#fff"/>
<rect x="1514" y="2" width="62" height="821" fill="#fff"/>
<rect x="4" y="4" width="1510" height="1" fill="#000"/>
<rect x="4" y="531" width="1510" height="1" fill="#000"/>
<rect x="4" y="4" width="1" height="528" fill="#000"/>
<rect x="1513" y="4" width="1" height="528" fill="#000"/>
<rect x="4" y="533" width="1510" height="1" fill="#000"/>
<rect x="4" y="796" width="1510" height="1" fill="#000"/>
<rect x="4" y="533" width="1" height="264" fill="#000"/>
<rect x="1513" y="533" width="1" height="264" fill="#000"/>
<path d="M1202 5H1217L1209.5 13Z" fill="#666" shape-rendering="auto"/>
<line x1="195.5" y1="36.5" x2="666.5" y2="503.6" stroke="#ff0000" stroke-width="3.5" stroke-linecap="round" shape-rendering="auto"/><path d="M677.5 514.5L660.8 506.4L669.3 497.9Z" fill="#ff0000" shape-rendering="auto"/>
<line x1="677.5" y1="514.5" x2="1137.9" y2="308.3" stroke="#ff0000" stroke-width="3.5" stroke-linecap="round" shape-rendering="auto"/><path d="M1152 302L1138.5 314.6L1133.6 303.7Z" fill="#ff0000" shape-rendering="auto"/>
<line x1="1152" y1="302" x2="1213.3" y2="474.4" stroke="#ff0000" stroke-width="3.5" stroke-linecap="round" shape-rendering="auto"/><path d="M1218.5 489L1207.0 474.5L1218.3 470.5Z" fill="#ff0000" shape-rendering="auto"/>
<line x1="1152.5" y1="304" x2="1221" y2="478" stroke="#ff0000" stroke-width="1.2" stroke-dasharray="2 3" shape-rendering="auto"/>
<ellipse cx="1207" cy="701.6" rx="47.3" ry="73.1" fill="none" stroke="#000" stroke-width="6" shape-rendering="auto"/>
<rect x="1514" y="41" width="2" height="1" fill="#000"/>
<text x="1519.8" y="47" fill="#000" letter-spacing="0.35">1993.30</text>
<rect x="1514" y="106" width="2" height="1" fill="#000"/>
<text x="1519.8" y="112" fill="#000" letter-spacing="0.35">1965.30</text>
<rect x="1514" y="171" width="2" height="1" fill="#000"/>
<text x="1519.8" y="177" fill="#000" letter-spacing="0.35">1937.30</text>
<rect x="1514" y="236" width="2" height="1" fill="#000"/>
<text x="1519.8" y="242" fill="#000" letter-spacing="0.35">1908.90</text>
<rect x="1514" y="301" width="2" height="1" fill="#000"/>
<text x="1519.8" y="307" fill="#000" letter-spacing="0.35">1880.90</text>
<rect x="1514" y="366" width="2" height="1" fill="#000"/>
<text x="1519.8" y="372" fill="#000" letter-spacing="0.35">1852.50</text>
<rect x="1514" y="431" width="2" height="1" fill="#000"/>
<text x="1519.8" y="437" fill="#000" letter-spacing="0.35">1824.50</text>
<rect x="1514" y="496" width="2" height="1" fill="#000"/>
<text x="1519.8" y="502" fill="#000" letter-spacing="0.35">1796.10</text>
<rect x="1515" y="455" width="61" height="17" fill="#000"/>
<text x="1519.8" y="469" fill="#fff" letter-spacing="0.35">1810.50</text>
<rect x="1514" y="535" width="2" height="1" fill="#000"/>
<text x="1517.8" y="549" fill="#000" letter-spacing="0.2">12.502</text>
<rect x="1514" y="644" width="2" height="1" fill="#000"/>
<text x="1517.8" y="650" fill="#000" letter-spacing="0.2">0.00</text>
<text x="1516" y="792" fill="#000" letter-spacing="0.25">-17.221</text>
<rect x="5" y="797" width="1" height="3" fill="#000"/>
<text x="4.2" y="814" fill="#000" letter-spacing="0.2">5 Apr 2022</text>
<rect x="133" y="797" width="1" height="3" fill="#000"/>
<text x="132.2" y="814" fill="#000" letter-spacing="0.2">12 Apr 16:00</text>
<rect x="261" y="797" width="1" height="3" fill="#000"/>
<text x="260.2" y="814" fill="#000" letter-spacing="0.2">20 Apr 20:00</text>
<rect x="389" y="797" width="1" height="3" fill="#000"/>
<text x="388.2" y="814" fill="#000" letter-spacing="0.2">28 Apr 04:00</text>
<rect x="517" y="797" width="1" height="3" fill="#000"/>
<text x="516.2" y="814" fill="#000" letter-spacing="0.2">5 May 12:00</text>
<rect x="645" y="797" width="1" height="3" fill="#000"/>
<text x="644.2" y="814" fill="#000" letter-spacing="0.2">12 May 20:00</text>
<rect x="773" y="797" width="1" height="3" fill="#000"/>
<text x="772.2" y="814" fill="#000" letter-spacing="0.2">20 May 04:00</text>
<rect x="901" y="797" width="1" height="3" fill="#000"/>
<text x="900.2" y="814" fill="#000" letter-spacing="0.2">27 May 12:00</text>
<rect x="1029" y="797" width="1" height="3" fill="#000"/>
<text x="1028.2" y="814" fill="#000" letter-spacing="0.2">5 Jun 23:00</text>
<rect x="1157" y="797" width="1" height="3" fill="#000"/>
<text x="1156.2" y="814" fill="#000" letter-spacing="0.2">13 Jun 04:00</text>
<path d="M8 12H19L13.5 18Z" fill="#000" shape-rendering="auto"/>
<text x="26" y="21" fill="#000"><tspan letter-spacing="-0.7">XAUUSD-,H4</tspan><tspan x="112.6" letter-spacing="0.2">1810.80 1811.77 1808.57 1810.50</tspan></text>
<text x="9" y="551" fill="#000">MACD(12,26,9) -11.010 -7.194</text>
</svg></body></html>
